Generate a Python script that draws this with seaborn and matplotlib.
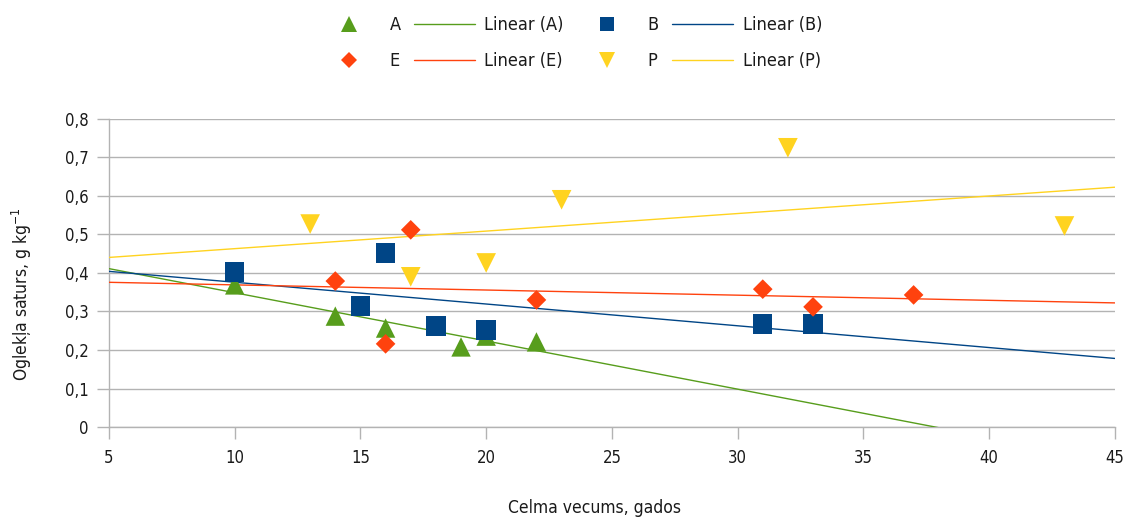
import numpy as np
import pandas as pd
import matplotlib
matplotlib.use("Agg")
import matplotlib.pyplot as plt
from matplotlib.lines import Line2D
import seaborn as sns

# ---- data ----
a_x = [10, 14, 16, 19, 20, 22]
a_y = [0.369, 0.288, 0.257, 0.208, 0.236, 0.221]
b_x = [10, 15, 16, 18, 20, 31, 33]
b_y = [0.403, 0.314, 0.452, 0.262, 0.252, 0.268, 0.268]
e_x = [14, 16, 17, 22, 31, 33, 37]
e_y = [0.379, 0.216, 0.512, 0.330, 0.358, 0.312, 0.343]
p_x = [13, 17, 20, 23, 32, 43]
p_y = [0.527, 0.390, 0.426, 0.590, 0.725, 0.522]

groups = ["A", "B", "E", "P"]
x_ticks = [5, 10, 15, 20, 25, 30, 35, 40, 45]
y_ticks = [0, 0.1, 0.2, 0.3, 0.4, 0.5, 0.6, 0.7, 0.8]
y_labels = ["0", "0,1", "0,2", "0,3", "0,4", "0,5", "0,6", "0,7", "0,8"]

colors = {"A": "#579D1C", "B": "#004586", "E": "#FF420E", "P": "#FFD320"}
markers = {"A": "^", "B": "s", "E": "D", "P": "v"}
sizes = {"A": 195, "B": 195, "E": 100, "P": 200}
leg_ms = {"A": 11, "B": 10, "E": 8, "P": 11}

df = pd.concat([
    pd.DataFrame({"x": a_x, "y": a_y, "g": "A"}),
    pd.DataFrame({"x": b_x, "y": b_y, "g": "B"}),
    pd.DataFrame({"x": e_x, "y": e_y, "g": "E"}),
    pd.DataFrame({"x": p_x, "y": p_y, "g": "P"}),
], ignore_index=True)

sns.set_theme(style="white")
plt.rcParams["font.family"] = ["DejaVu Sans"]
plt.rcParams["font.stretch"] = "condensed"
txt = "#1a1a1a"

fig = plt.figure(figsize=(11.25, 5.17), dpi=100)
ax = fig.add_axes([0.0969, 0.174, 0.894, 0.596])

ax.set_xlim(5, 45)
ax.set_ylim(0, 0.8)

# trend lines (least squares fit of each series)
xs = np.array([5, 45], dtype=float)
for g in groups:
    sub = df[df.g == g]
    k, b = np.polyfit(sub.x, sub.y, 1)
    ax.plot(xs, k * xs + b, color=colors[g], lw=1.0, zorder=3, clip_on=True)

for g in groups:
    sub = df[df.g == g]
    sns.scatterplot(data=sub, x="x", y="y", marker=markers[g], color=colors[g],
                    s=sizes[g], edgecolor="none", linewidth=0, ax=ax, zorder=4,
                    legend=False)

ax.set_xticks(x_ticks)
ax.set_xticklabels([str(t) for t in x_ticks])
ax.set_yticks(y_ticks)
ax.set_yticklabels(y_labels)
ax.yaxis.grid(True, color="#b3b3b3", lw=1)
ax.xaxis.grid(False)
for s in ["top", "right"]:
    ax.spines[s].set_visible(False)
for s in ["left", "bottom"]:
    ax.spines[s].set_color("#b3b3b3")
    ax.spines[s].set_linewidth(1)
ax.tick_params(axis="both", direction="out", length=8.5, width=1, color="#b3b3b3",
               labelsize=12, labelcolor=txt, bottom=True, left=True)
ax.tick_params(axis="y", pad=6)
ax.tick_params(axis="x", pad=7)
ax.set_xlabel("")
ax.set_ylabel("")
fig.text(594 / 1125, 1 - 499 / 517, "Celma vecums, gados", fontsize=12.5, color=txt,
         ha="center", va="top")
fig.text(22 / 1125, 1 - 294 / 517, "Oglekļa saturs, g kg$^{-1}$", fontsize=12.5,
         color=txt, ha="center", va="center", rotation=90)

def mk(g):
    return Line2D([], [], ls="none", marker=markers[g], color=colors[g],
                  markersize=leg_ms[g], markeredgewidth=0)

def ln(g):
    return Line2D([], [], color=colors[g], lw=1.0)

handles = [mk("A"), mk("E"), ln("A"), ln("E"), mk("B"), mk("P"), ln("B"), ln("P")]
labels = ["A", "E", "Linear (A)", "Linear (E)", "B", "P", "Linear (B)", "Linear (P)"]
fig.legend(handles, labels, ncol=4, loc="upper center", bbox_to_anchor=(0.507, 1.0),
           frameon=False, fontsize=13, handlelength=3.38, handletextpad=0.55,
           columnspacing=0.72, labelspacing=1.0, labelcolor=txt)

fig.savefig("out.png", dpi=100)
